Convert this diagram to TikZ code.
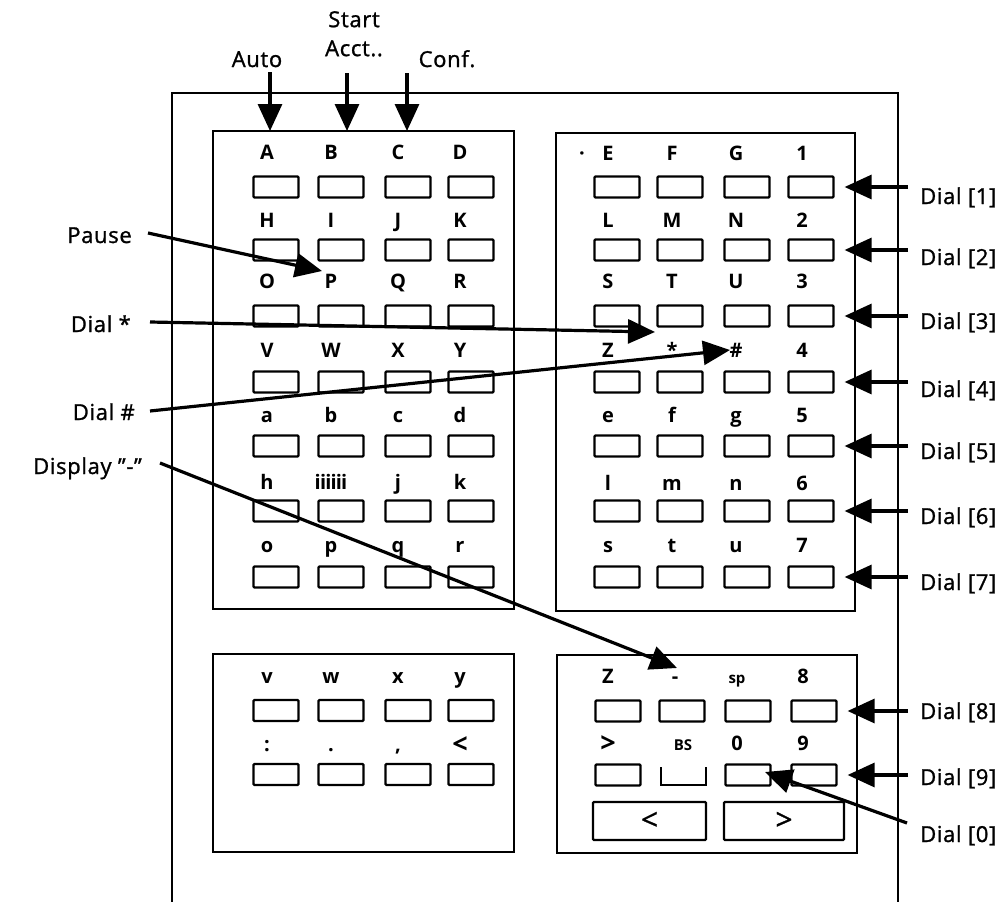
\documentclass[tikz,border=0pt]{standalone}
\usepackage{fontspec}
\setmainfont{Open Sans}
\usetikzlibrary{arrows.meta}
\begin{document}
\begin{tikzpicture}[x=1pt,y=-1pt,
  frame/.style={draw,line width=1.7pt},
  panel/.style={draw,line width=2.2pt,inner sep=0pt},
  key/.style={draw,line width=2.2pt,minimum width=45pt,minimum height=21pt,inner sep=0pt,rounded corners=1pt},
  keyspace/.style={minimum width=45pt,minimum height=17pt,inner sep=0pt},
  bigkey/.style={draw,line width=2.2pt,minimum height=38pt,inner sep=0pt,rounded corners=1pt,font=\fontsize{30}{30}\selectfont\addfontfeatures{FakeBold=1}},
  lbl/.style={font=\bfseries\fontsize{20}{20}\selectfont,inner sep=0pt,anchor=base},
  angle/.style={font=\bfseries\fontsize{27}{27}\selectfont,inner sep=0pt,anchor=base},
  small/.style={font=\bfseries\fontsize{15}{15}\selectfont,inner sep=0pt,anchor=base},
  side/.style={font=\fontsize{22}{29}\selectfont\addfontfeatures{LetterSpace=3,FakeBold=1.2},inner sep=0pt},
  arr/.style={line width=3.2pt,-{Triangle[length=27pt,width=24pt]}}]

\useasboundingbox (0,0) rectangle (1002,902);

% outer housing
\draw[frame] (172,902) -- (172,93) -- (898,93) -- (898,902);

% panels
\node[panel,minimum width=301pt,minimum height=478pt] (pUL) at (363.5,370) {};
\node[panel,minimum width=299pt,minimum height=478pt] (pUR) at (705.5,372) {};
\node[panel,minimum width=301pt,minimum height=198pt] (pLL) at (363.5,753) {};
\node[panel,minimum width=300pt,minimum height=198pt] (pLR) at (707,754) {};

% keys of the two upper panels
\foreach \y [count=\r] in {187,250,316,382,446,511,577} {
  \foreach \x [count=\c] in {276,341,408,471}
    \node[key] (ul-\r-\c) at (\x,\y) {};
  \foreach \x [count=\c] in {617,680,747,811}
    \node[key] (ur-\r-\c) at (\x,\y) {};
}

% labels, upper left panel
\foreach \y/\a/\b/\cc/\d [count=\r] in
  {159/A/B/C/D, 227/H/I/J/K, 288/O/P/Q/R, 357/V/W/X/Y,
   422/a/b/c/d, 489/h/{\addfontfeatures{LetterSpace=-4}iiiiii}/j/k, 552/o/p/q/r} {
  \node[lbl] (ult-\r-1) at (267,\y) {\a};
  \node[lbl] (ult-\r-2) at (331,\y) {\b};
  \node[lbl] (ult-\r-3) at (398,\y) {\cc};
  \node[lbl] (ult-\r-4) at (460,\y) {\d};
}

% labels, upper right panel
\node[lbl] (dotE) at (582,160) {·};
\foreach \y/\a/\b/\cc/\d [count=\r] in
  {160/E/F/G/1, 227/L/M/N/2, 288/S/T/U/3, 357/Z/{*}/{\#}/4,
   422/e/f/g/5, 490/l/m/n/6, 552/s/t/u/7} {
  \node[lbl] (urt-\r-1) at (608,\y) {\a};
  \node[lbl] (urt-\r-2) at (672,\y) {\b};
  \node[lbl] (urt-\r-3) at (736,\y) {\cc};
  \node[lbl] (urt-\r-4) at (802,\y) {\d};
}

% lower left panel
\foreach \y [count=\r] in {710.5,774.5}
  \foreach \x [count=\c] in {276,341,408,471}
    \node[key] (ll-\r-\c) at (\x,\y) {};
\node[lbl] (llt-1-1) at (267,683) {v};
\node[lbl] (llt-1-2) at (331,683) {w};
\node[lbl] (llt-1-3) at (398,683) {x};
\node[lbl] (llt-1-4) at (460,683) {y};
\node[lbl] (llt-2-1) at (267,751) {:};
\node[lbl] (llt-2-2) at (331,751) {.};
\node[lbl] (llt-2-3) at (398,751) {,};
\node[angle] (llt-2-4) at (460,753) {<};

% lower right panel
\foreach \x [count=\c] in {618,682,748,814}
  \node[key] (lr-1-\c) at (\x,711) {};
\node[key] (lr-2-1) at (618,775) {};
\node[keyspace] (lr-2-2) at (683.5,776) {};
\draw[line width=2.2pt] (lr-2-2.north west) -- (lr-2-2.south west) -- (lr-2-2.south east) -- (lr-2-2.north east);
\node[key] (lr-2-3) at (748,775) {};
\node[key] (lr-2-4) at (814,775) {};
\node[bigkey,minimum width=113pt] (kleft) at (649.5,821) {<};
\node[bigkey,minimum width=120pt] (kright) at (784,821) {>};

\node[lbl] (lrt-1-1) at (608,683) {Z};
\node[lbl] (lrt-1-2) at (675,683) {-};
\node[small] (lrt-1-3) at (737,683) {sp};
\node[lbl] (lrt-1-4) at (803,683) {8};
\node[angle] (lrt-2-1) at (608,752) {>};
\node[small] (lrt-2-2) at (683,750) {BS};
\node[lbl] (lrt-2-3) at (737,750) {0};
\node[lbl] (lrt-2-4) at (803,750) {9};

% top labels and arrows
\node[side,anchor=base] (auto) at (257,67) {Auto};
\node[side,anchor=north,align=center] (acct) at (354,11) {Start\\Acct..};
\node[side,anchor=base] (conf) at (447,67) {Conf.};
\coordinate (tA) at (270,131);
\coordinate (tB) at (347,131);
\coordinate (tC) at (407,131);
\draw[arr] (tA |- 0,72) -- (tA);
\draw[arr] (tB |- 0,73) -- (tB);
\draw[arr] (tC |- 0,73) -- (tC);

% left labels and arrows
\node[side,anchor=base east] (pause) at (132,243) {Pause};
\node[side,anchor=base east] (dstar) at (131,332) {Dial *};
\node[side,anchor=base east] (dhash) at (135,420) {Dial \#};
\node[side,anchor=base east] (disp) at (142,474) {Display "-"};
\coordinate (tP) at (322,271);
\coordinate (tS) at (655,332);
\coordinate (tH) at (730,350);
\coordinate (tD) at (677,668);
\draw[arr] ([shift={(16,-10)}]pause.base east) -- (tP);
\draw[arr] ([shift={(19,-10)}]dstar.base east) -- (tS);
\draw[arr] ([shift={(15,-9)}]dhash.base east) -- (tH);
\draw[arr] ([shift={(18,-11)}]disp.base east) -- (tD);

% right labels and arrows
\foreach \n/\y in {1/204,2/265,3/329,4/397,5/459,6/524,7/590}
  \node[side,anchor=base west] (dial\n) at (920,\y) {Dial [\n]};
\node[side,anchor=base west] (dial8) at (920,719) {Dial [8]};
\node[side,anchor=base west] (dial9) at (920,785) {Dial [9]};
\node[side,anchor=base west] (dial0) at (920,842) {Dial [0]};
\foreach \n in {1,...,7}
  \draw[arr] ([xshift=-12pt]dial\n.base west |- ur-\n-4.east) -- ([xshift=10pt]ur-\n-4.east);
\draw[arr] ([xshift=-12pt]dial8.base west |- lr-1-4.east) -- ([xshift=10pt]lr-1-4.east);
\draw[arr] ([xshift=-12pt]dial9.base west |- lr-2-4.east) -- ([xshift=10pt]lr-2-4.east);
\coordinate (t0) at (765,772);
\draw[arr] ([shift={(-13,-19)}]dial0.base west) -- (t0);
\end{tikzpicture}
\end{document}
